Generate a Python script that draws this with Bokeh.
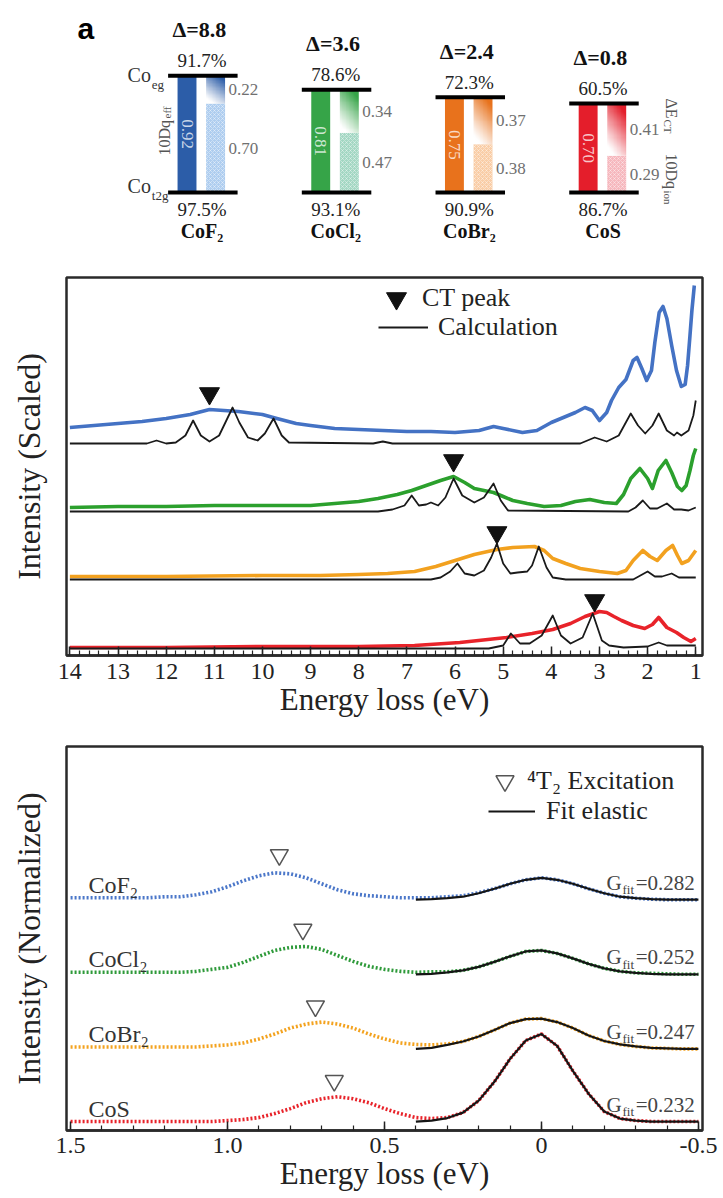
import numpy as np
from bokeh.plotting import figure
from bokeh.models import Range1d, FixedTicker, Label, Legend, LegendItem
from bokeh.layouts import column
from bokeh.embed import file_html
from bokeh.resources import INLINE
from bokeh.core.properties import value

SERIF = "Liberation Serif"
SANS = "Liberation Sans"

# ---------------- panel a : energy-level data ----------------
compounds = ["CoF₂", "CoCl₂", "CoBr₂", "CoS"]
delta_ct = [8.8, 3.6, 2.4, 0.8]
eg_weight = [91.7, 78.6, 72.3, 60.5]
t2g_weight = [97.5, 93.1, 90.9, 86.7]
dq_eff = [0.92, 0.81, 0.75, 0.70]
de_ct = [0.22, 0.34, 0.37, 0.41]
dq_ion = [0.70, 0.47, 0.38, 0.29]

# ---------------- panel b : RIXS spectra ----------------
b_ticks = [14, 13, 12, 11, 10, 9, 8, 7, 6, 5, 4, 3, 2, 1]

cof2_e = [14.0, 13.5, 13.0, 12.5, 12.0, 11.5, 11.1, 10.8, 10.5, 10.0, 9.7, 9.3, 9.0, 8.5, 8.0, 7.5, 7.0, 6.5, 6.0, 5.5,
          5.2, 5.0, 4.6, 4.3, 4.0, 3.7, 3.5, 3.3, 3.15, 3.0, 2.85, 2.75, 2.6, 2.45, 2.3, 2.22, 2.12, 2.02, 1.92, 1.85,
          1.76, 1.68, 1.6, 1.5, 1.4, 1.3, 1.22, 1.17, 1.12, 1.08, 1.03]
cof2_i = [2.28, 2.30, 2.32, 2.34, 2.37, 2.41, 2.46, 2.45, 2.44, 2.41, 2.37, 2.32, 2.30, 2.27, 2.26, 2.25, 2.24, 2.24, 2.23, 2.25,
          2.29, 2.27, 2.23, 2.25, 2.33, 2.39, 2.43, 2.48, 2.45, 2.35, 2.43, 2.55, 2.68, 2.76, 2.95, 2.98, 2.87, 2.75, 2.85, 3.13,
          3.43, 3.49, 3.37, 3.10, 2.85, 2.69, 2.71, 2.90, 3.20, 3.45, 3.70]
cof2_calc_e = [14.0, 12.4, 12.2, 12.0, 11.8, 11.6, 11.44, 11.28, 11.1, 10.9, 10.75, 10.62, 10.48, 10.3, 10.1, 9.95, 9.77, 9.6,
               9.45, 7.7, 7.5, 7.3, 3.4, 3.1, 2.85, 2.6, 2.35, 2.2, 2.05, 1.9, 1.77, 1.6, 1.45, 1.39, 1.3, 1.15, 1.05, 1.0]
cof2_calc_i = [2.12, 2.12, 2.15, 2.12, 2.13, 2.20, 2.35, 2.20, 2.14, 2.20, 2.35, 2.48, 2.33, 2.18, 2.15, 2.22, 2.37, 2.20,
               2.13, 2.12, 2.14, 2.12, 2.12, 2.18, 2.14, 2.20, 2.42, 2.30, 2.22, 2.30, 2.42, 2.25, 2.20, 2.23, 2.20, 2.25, 2.40, 2.55]

cocl2_e = [14.0, 13.0, 12.0, 11.0, 10.0, 9.0, 8.5, 8.0, 7.6, 7.2, 6.9, 6.6, 6.3, 6.03, 5.8, 5.6, 5.4, 5.2, 5.0, 4.8, 4.5,
           4.15, 3.8, 3.5, 3.2, 2.9, 2.65, 2.5, 2.35, 2.16, 2.0, 1.9, 1.78, 1.62, 1.5, 1.38, 1.29, 1.2, 1.12, 1.05, 1.0]
cocl2_i = [1.48, 1.49, 1.49, 1.50, 1.50, 1.50, 1.52, 1.54, 1.57, 1.61, 1.65, 1.70, 1.75, 1.79, 1.73, 1.67, 1.65, 1.63, 1.59,
           1.55, 1.52, 1.49, 1.50, 1.54, 1.56, 1.53, 1.52, 1.61, 1.77, 1.87, 1.77, 1.67, 1.85, 1.95, 1.83, 1.69, 1.65, 1.70,
           1.85, 2.00, 2.07]
cocl2_calc_e = [14.0, 7.6, 7.3, 7.05, 6.9, 6.75, 6.6, 6.5, 6.35, 6.2, 6.03, 5.85, 5.6, 5.4, 5.2, 5.05, 4.9, 2.4, 2.25, 2.1,
                1.95, 1.8, 1.6, 1.45, 1.3, 1.15, 1.05, 1.0]
cocl2_calc_i = [1.44, 1.44, 1.46, 1.50, 1.60, 1.50, 1.51, 1.53, 1.50, 1.58, 1.77, 1.60, 1.53, 1.58, 1.72, 1.55, 1.45, 1.44,
                1.48, 1.55, 1.47, 1.47, 1.52, 1.46, 1.46, 1.45, 1.47, 1.48]

cobr2_e = [14.0, 12.0, 10.0, 8.8, 8.0, 7.4, 6.84, 6.4, 6.0, 5.6, 5.13, 4.8, 4.35, 4.15, 3.97, 3.7, 3.4, 3.0, 2.63, 2.45,
           2.3, 2.1, 1.95, 1.8, 1.62, 1.48, 1.38, 1.29, 1.15, 1.0]
cobr2_i = [0.79, 0.79, 0.80, 0.80, 0.81, 0.82, 0.84, 0.89, 0.95, 1.01, 1.06, 1.08, 1.09, 1.05, 0.97, 0.92, 0.87, 0.84, 0.82,
           0.85, 0.95, 1.05, 0.99, 0.95, 1.05, 1.10, 1.00, 0.92, 0.95, 1.05]
cobr2_calc_e = [14.0, 6.5, 6.3, 6.1, 5.95, 5.8, 5.6, 5.4, 5.25, 5.13, 5.0, 4.85, 4.7, 4.5, 4.4, 4.26, 4.1, 3.97, 3.7, 2.3,
                2.15, 2.0, 1.85, 1.7, 1.5, 1.35, 1.2, 1.0]
cobr2_calc_i = [0.76, 0.76, 0.78, 0.84, 0.92, 0.82, 0.80, 0.85, 0.98, 1.12, 0.92, 0.82, 0.83, 0.84, 0.90, 1.09, 0.88, 0.78,
                0.76, 0.76, 0.80, 0.84, 0.79, 0.79, 0.82, 0.78, 0.78, 0.78]

cos_e = [14.0, 12.0, 10.0, 8.0, 6.84, 5.9, 4.93, 4.4, 3.97, 3.6, 3.3, 3.0, 2.85, 2.7, 2.54, 2.3, 2.06, 1.9, 1.77, 1.6, 1.4,
         1.25, 1.1, 1.0]
cos_i = [0.08, 0.08, 0.09, 0.09, 0.10, 0.13, 0.18, 0.22, 0.26, 0.32, 0.39, 0.44, 0.43, 0.39, 0.35, 0.30, 0.27, 0.31, 0.38,
         0.28, 0.23, 0.18, 0.14, 0.17]
cos_calc_e = [14.0, 5.3, 5.0, 4.84, 4.65, 4.45, 4.2, 3.97, 3.8, 3.6, 3.35, 3.14, 2.95, 2.8, 2.5, 2.0, 1.77, 1.6, 1.3, 1.0]
cos_calc_i = [0.07, 0.07, 0.10, 0.22, 0.12, 0.12, 0.20, 0.40, 0.20, 0.12, 0.18, 0.42, 0.15, 0.10, 0.08, 0.09, 0.13, 0.10,
              0.10, 0.10]

ct_peak_e = [11.1, 6.03, 5.13, 3.1]
ct_peak_i = [2.62, 1.95, 1.23, 0.55]

# ---------------- panel c : low-energy excitations ----------------
c_tick_values = [1.5, 1.0, 0.5, 0.0, -0.5]
c_tick_labels = ["1.5", "1.0", "0.5", "0", "-0.5"]
c_energy = [1.50, 1.45, 1.40, 1.35, 1.30, 1.25, 1.20, 1.15, 1.10, 1.05, 1.00, 0.95, 0.90, 0.85, 0.80, 0.75, 0.70,
            0.65, 0.60, 0.55, 0.50, 0.45, 0.40, 0.35, 0.30, 0.25, 0.20, 0.15, 0.10, 0.05, 0.00, -0.05, -0.10, -0.15,
            -0.20, -0.25, -0.30, -0.35, -0.40, -0.45, -0.50]
c_cof2 = [2.34, 2.34, 2.34, 2.34, 2.34, 2.34, 2.35, 2.35, 2.37, 2.40, 2.45, 2.51, 2.56, 2.59, 2.58, 2.54, 2.48, 2.42,
          2.38, 2.36, 2.35, 2.34, 2.34, 2.34, 2.35, 2.36, 2.39, 2.43, 2.48, 2.52, 2.54, 2.52, 2.48, 2.43, 2.385, 2.35,
          2.335, 2.325, 2.32, 2.32, 2.32]
c_cocl2 = [1.59, 1.59, 1.59, 1.59, 1.59, 1.59, 1.59, 1.59, 1.60, 1.62, 1.64, 1.69, 1.75, 1.81, 1.84, 1.85, 1.82, 1.76,
           1.70, 1.65, 1.62, 1.60, 1.59, 1.595, 1.595, 1.61, 1.645, 1.695, 1.75, 1.80, 1.81, 1.78, 1.73, 1.675, 1.63,
           1.60, 1.585, 1.58, 1.575, 1.57, 1.57]
c_cobr2 = [0.84, 0.84, 0.84, 0.84, 0.84, 0.84, 0.84, 0.84, 0.84, 0.85, 0.86, 0.88, 0.92, 0.97, 1.03, 1.07, 1.09, 1.07,
           1.03, 0.97, 0.92, 0.88, 0.865, 0.86, 0.87, 0.895, 0.945, 1.01, 1.08, 1.12, 1.125, 1.09, 1.03, 0.955, 0.90,
           0.865, 0.845, 0.83, 0.825, 0.82, 0.82]
c_cos = [0.09, 0.09, 0.09, 0.09, 0.09, 0.09, 0.09, 0.09, 0.09, 0.09, 0.10, 0.11, 0.13, 0.17, 0.22, 0.28, 0.32, 0.34,
         0.32, 0.28, 0.22, 0.17, 0.13, 0.12, 0.13, 0.18, 0.30, 0.49, 0.72, 0.905, 0.97, 0.85, 0.60, 0.37, 0.19,
         0.12, 0.10, 0.09, 0.09, 0.09, 0.09]
fit_energy = [0.40, 0.35, 0.30, 0.25, 0.20, 0.15, 0.10, 0.05, 0.00, -0.05, -0.10, -0.15, -0.20, -0.25, -0.30, -0.35,
              -0.40, -0.45, -0.50]
fit_cof2 = [2.32, 2.325, 2.335, 2.35, 2.385, 2.43, 2.48, 2.52, 2.54, 2.52, 2.48, 2.43, 2.385, 2.35, 2.335, 2.325, 2.32,
            2.32, 2.32]
fit_cocl2 = [1.57, 1.575, 1.59, 1.61, 1.645, 1.695, 1.75, 1.80, 1.81, 1.78, 1.73, 1.675, 1.63, 1.60, 1.585, 1.575, 1.57,
             1.57, 1.57]
fit_cobr2 = [0.82, 0.83, 0.86, 0.895, 0.945, 1.01, 1.08, 1.12, 1.125, 1.09, 1.03, 0.955, 0.90, 0.865, 0.845, 0.83,
             0.825, 0.82, 0.82]
fit_cos = [0.09, 0.10, 0.125, 0.18, 0.30, 0.49, 0.72, 0.905, 0.97, 0.85, 0.60, 0.37, 0.19, 0.12, 0.10, 0.09, 0.09,
           0.09, 0.09]
g_fit = [0.282, 0.252, 0.247, 0.232]
t2_peak_e = [0.835, 0.76, 0.72, 0.66]
t2_peak_i = [2.77, 2.02, 1.25, 0.50]

# ---------------- styles ----------------
bar_colors = ["#2C5DA8", "#36A448", "#E8721C", "#E41E2B"]
light_colors = ["#AECDEF", "#A3D7C3", "#F9CDA6", "#F6B7BD"]
b_colors = ["#4472C4", "#2BA02D", "#F2A11F", "#E8232A"]
c_colors = ["#4B77C9", "#2E9A3A", "#F3A21E", "#E8232A"]
INK = "#222222"

# =================== panel a ===================
PX = 1 / 152.0
PY = 1 / 127.0
A_H = 246
idx = np.arange(len(compounds), dtype=float)
top = np.array(dq_eff)
ion = np.array(dq_ion)
ctv = np.array(de_ct)
off_l, off_r, bw, half = -18 * PX, 14.5 * PX, 21.5 * PX, 39.5 * PX

pa = figure(width=723, height=A_H, x_range=Range1d(-155 * PX, 568 * PX),
            y_range=Range1d(-(A_H - 192) * PY, 192 * PY),
            x_axis_location=None, y_axis_location=None, output_backend="svg", toolbar_location=None,
            min_border=0, outline_line_color=None)
pa.grid.visible = False

pa.vbar(x=idx + off_r, width=bw, bottom=0, top=ion, fill_color=light_colors, line_color=None,
        hatch_pattern="x", hatch_color="white", hatch_alpha=0.55, hatch_scale=4, hatch_weight=0.7)


def gradient(hex_color, nx=24, ny=48):
    r, g, b = (int(hex_color[i:i + 2], 16) for i in (1, 3, 5))
    u = np.linspace(0, 1, nx)[None, :]
    v = np.linspace(0, 1, ny)[:, None]
    t = np.clip(0.9 * v + 0.45 * u - 0.15, 0, 1) ** 1.1
    img = np.empty((ny, nx), dtype=np.uint32)
    view = img.view(dtype=np.uint8).reshape((ny, nx, 4))
    view[..., 0] = (255 + (r - 255) * t).astype(np.uint8)
    view[..., 1] = (255 + (g - 255) * t).astype(np.uint8)
    view[..., 2] = (255 + (b - 255) * t).astype(np.uint8)
    view[..., 3] = 255
    return img


pa.image_rgba(image=[gradient(c) for c in bar_colors], x=list(idx + off_r - bw / 2), y=list(ion),
              dw=[bw] * 4, dh=list(ctv))
pa.vbar(x=idx + off_l, width=bw, bottom=0, top=top, fill_color=bar_colors, line_color=None)
pa.segment(x0=idx - half, x1=idx + half, y0=top, y1=top, line_color="black", line_width=4)
pa.segment(x0=idx - half, x1=idx + half, y0=np.zeros(4), y1=np.zeros(4), line_color="black", line_width=4)

pa.text(x=idx - 4 * PX, y=top + 46 * PY, text=[f"Δ={d}" for d in delta_ct], text_font=value(SERIF),
        text_font_size="22px", text_font_style="bold", text_align="center", text_baseline="middle", text_color="#111")
pa.text(x=idx - 1 * PX, y=top + 15 * PY, text=[f"{w}%" for w in eg_weight], text_font=value(SERIF),
        text_font_size="19px", text_align="center", text_baseline="middle", text_color=INK)
pa.text(x=idx - 1 * PX, y=np.full(4, -17 * PY), text=[f"{w}%" for w in t2g_weight], text_font=value(SERIF),
        text_font_size="19px", text_align="center", text_baseline="middle", text_color=INK)
pa.text(x=idx - 1 * PX, y=np.full(4, -38 * PY), text=compounds, text_font=value(SERIF),
        text_font_size="20px", text_font_style="bold", text_align="center", text_baseline="middle", text_color="#111")
pa.text(x=idx + off_l, y=top / 2, text=[f"{v:.2f}" for v in dq_eff], angle=-np.pi / 2, text_font=value(SERIF),
        text_font_size="17px", text_align="center", text_baseline="middle", text_color="white", text_alpha=0.75)
pa.text(x=idx + off_r + bw / 2 + 4 * PX, y=ion + ctv / 2, text=[f"{v:.2f}" for v in de_ct], text_font=value(SERIF),
        text_font_size="17px", text_align="left", text_baseline="middle", text_color="#707070")
pa.text(x=idx + off_r + bw / 2 + 4 * PX, y=ion / 2, text=[f"{v:.2f}" for v in dq_ion], text_font=value(SERIF),
        text_font_size="17px", text_align="left", text_baseline="middle", text_color="#707070")

# energy-level labels (left of CoF2, right of CoS)
pa.text(x=[-59 * PX, -59 * PX], y=[top[0] + 1 * PY, 7 * PY], text=["Co", "Co"], text_font=value(SERIF),
        text_font_size="20px", text_align="right", text_baseline="middle", text_color="#333")
pa.text(x=[-58 * PX, -58 * PX], y=[top[0] - 9 * PY, -3 * PY], text=["eg", "t2g"], text_font=value(SERIF),
        text_font_size="13px", text_align="left", text_baseline="middle", text_color="#333")
pa.text(x=[-44 * PX], y=[37 * PY], text=["10Dq"], angle=np.pi / 2, text_font=value(SERIF),
        text_font_size="16px", text_align="left", text_baseline="middle", text_color="#555")
pa.text(x=[-41 * PX], y=[74 * PY], text=["eff"], angle=np.pi / 2, text_font=value(SERIF),
        text_font_size="11px", text_align="left", text_baseline="middle", text_color="#555")
pa.text(x=[3 + 76.5 * PX, 3 + 76.5 * PX], y=[94 * PY, 39 * PY], text=["ΔE", "10Dq"], angle=-np.pi / 2,
        text_font=value(SERIF), text_font_size="16px", text_align="left", text_baseline="middle", text_color="#555")
pa.text(x=[3 + 73 * PX, 3 + 73 * PX], y=[73 * PY, 2 * PY], text=["CT", "ion"], angle=-np.pi / 2,
        text_font=value(SERIF), text_font_size="11px", text_align="left", text_baseline="middle", text_color="#555")
pa.add_layout(Label(x=-133 * PX, y=164 * PY, text="a", text_font=SANS, text_font_style="bold",
                    text_font_size="30px", text_align="center", text_baseline="middle", text_color="black"))


# =================== shared axis styling ===================
def style(p, ticks, minor, tick_standoff, ylabel):
    p.grid.visible = False
    p.outline_line_color = "#2a2a2a"
    p.outline_line_width = 2.5
    xa = p.xaxis[0]
    xa.ticker = FixedTicker(ticks=ticks, minor_ticks=minor)
    xa.major_tick_in = 9
    xa.major_tick_out = 0
    xa.minor_tick_in = 5
    xa.minor_tick_out = 0
    xa.major_tick_line_color = INK
    xa.major_tick_line_width = 1.5
    xa.minor_tick_line_color = INK
    xa.minor_tick_line_width = 1.2
    xa.axis_line_color = "#2a2a2a"
    xa.axis_line_width = 2.5
    xa.major_label_text_font = SERIF
    xa.major_label_text_font_size = "24px"
    xa.major_label_text_color = INK
    xa.major_label_standoff = tick_standoff
    xa.axis_label = "Energy loss (eV)"
    xa.axis_label_text_font = SERIF
    xa.axis_label_text_font_size = "31px"
    xa.axis_label_text_font_style = "normal"
    xa.axis_label_text_color = INK
    xa.axis_label_standoff = 0
    ya = p.yaxis[0]
    ya.ticker = FixedTicker(ticks=[])
    ya.major_tick_in = 0
    ya.major_tick_out = 0
    ya.minor_tick_in = 0
    ya.minor_tick_out = 0
    ya.major_label_standoff = 0
    ya.axis_line_color = None
    ya.axis_label = ylabel
    ya.axis_label_text_font = SERIF
    ya.axis_label_text_font_size = "32px"
    ya.axis_label_text_font_style = "normal"
    ya.axis_label_text_color = INK
    ya.axis_label_standoff = 20


def legend(item, loc, gw, gh, standoff):
    return Legend(items=[item], location=loc, glyph_width=gw, glyph_height=gh, label_standoff=standoff,
                  padding=0, margin=0, spacing=0, border_line_color=None, background_fill_alpha=0,
                  label_text_font=SERIF, label_text_font_size="26px", label_text_color=INK)


# =================== panel b ===================
B_H = 478
pb = figure(width=723, height=B_H, x_range=Range1d(14.07, 0.86), y_range=Range1d(0, 3.78),
            output_backend="svg", toolbar_location=None,
            min_border_left=66, min_border_right=20, min_border_top=277 - A_H, min_border_bottom=69)
style(pb, b_ticks, [round(1 + 0.2 * k, 1) for k in range(66)], 8, "Intensity (Scaled)")

exp_b = [(cof2_e, cof2_i), (cocl2_e, cocl2_i), (cobr2_e, cobr2_i), (cos_e, cos_i)]
calc_b = [(cof2_calc_e, cof2_calc_i), (cocl2_calc_e, cocl2_calc_i), (cobr2_calc_e, cobr2_calc_i),
          (cos_calc_e, cos_calc_i)]
calc_renderers = []
for (ex, ey), (cx, cy), col in zip(exp_b, calc_b, b_colors):
    pb.line(ex, ey, line_color=col, line_width=3.6, line_join="round")
    calc_renderers.append(pb.line(cx, cy, line_color="#1a1a1a", line_width=1.8, line_join="round"))
ct_r = pb.scatter(ct_peak_e, ct_peak_i, marker="inverted_triangle", size=20, fill_color="#111", line_color="#111")

pb.add_layout(legend(LegendItem(label="CT peak", renderers=[ct_r]), (305, 332), 50, 50, 1))
pb.add_layout(legend(LegendItem(label="Calculation", renderers=[calc_renderers[0]]), (312, 313), 50, 30, 10))
pb.add_layout(Label(x=14.96, y=3.80, text="b", text_font=SANS, text_font_style="bold", text_font_size="30px",
                    text_align="center", text_baseline="middle", text_color="black"))

# =================== panel c ===================
C_H = 1198 - A_H - B_H
pc = figure(width=723, height=C_H, x_range=Range1d(1.513, -0.513), y_range=Range1d(0, 3.86),
            output_backend="svg", toolbar_location=None,
            min_border_left=66, min_border_right=21, min_border_top=746 - (A_H + B_H), min_border_bottom=68)
style(pc, c_tick_values, [round(-0.5 + 0.1 * k, 1) for k in range(21)], 7, "Intensity (Normalized)")
pc.xaxis[0].major_label_overrides = {t: l for t, l in zip(c_tick_values, c_tick_labels)}

c_series = [c_cof2, c_cocl2, c_cobr2, c_cos]
c_fits = [fit_cof2, fit_cocl2, fit_cobr2, fit_cos]
fit_renderers = []
for ys, fy, col in zip(c_series, c_fits, c_colors):
    pc.line(c_energy, ys, line_color=col, line_width=3.6, line_dash="2 2")
    fit_renderers.append(pc.line(fit_energy, fy, line_color="#151515", line_width=2.2, line_join="round"))
t2_r = pc.scatter(t2_peak_e, t2_peak_i, marker="inverted_triangle", size=18, fill_color=None,
                  line_color="#555", line_width=1.5)

pc.text(x=[1.443] * 4, y=[s[0] + 0.13 for s in c_series], text=compounds, text_font=value(SERIF),
        text_font_size="24px", text_align="left", text_baseline="middle", text_color="#333")
g_y = np.array([s[-1] + 0.17 for s in c_series])
pc.text(x=[-0.207] * 4, y=g_y, text=["G"] * 4, text_font=value(SERIF), text_font_size="21px",
        text_align="left", text_baseline="middle", text_color="#444")
pc.text(x=[-0.258] * 4, y=g_y - 0.07, text=["fit"] * 4, text_font=value(SERIF), text_font_size="13px",
        text_align="left", text_baseline="middle", text_color="#444")
pc.text(x=[-0.300] * 4, y=g_y, text=[f"={g:.3f}" for g in g_fit], text_font=value(SERIF), text_font_size="21px",
        text_align="left", text_baseline="middle", text_color="#444")

pc.add_layout(legend(LegendItem(label="⁴T₂ Excitation", renderers=[t2_r]), (416, 327), 45, 45, 0))
pc.add_layout(legend(LegendItem(label="Fit elastic", renderers=[fit_renderers[0]]), (422, 304), 47, 30, 11))
pc.add_layout(Label(x=1.65, y=3.85, text="c", text_font=SANS, text_font_style="bold", text_font_size="30px",
                    text_align="center", text_baseline="middle", text_color="black"))

layout = column(pa, pb, pc)
open("out.html", "w").write(file_html(layout, INLINE))
